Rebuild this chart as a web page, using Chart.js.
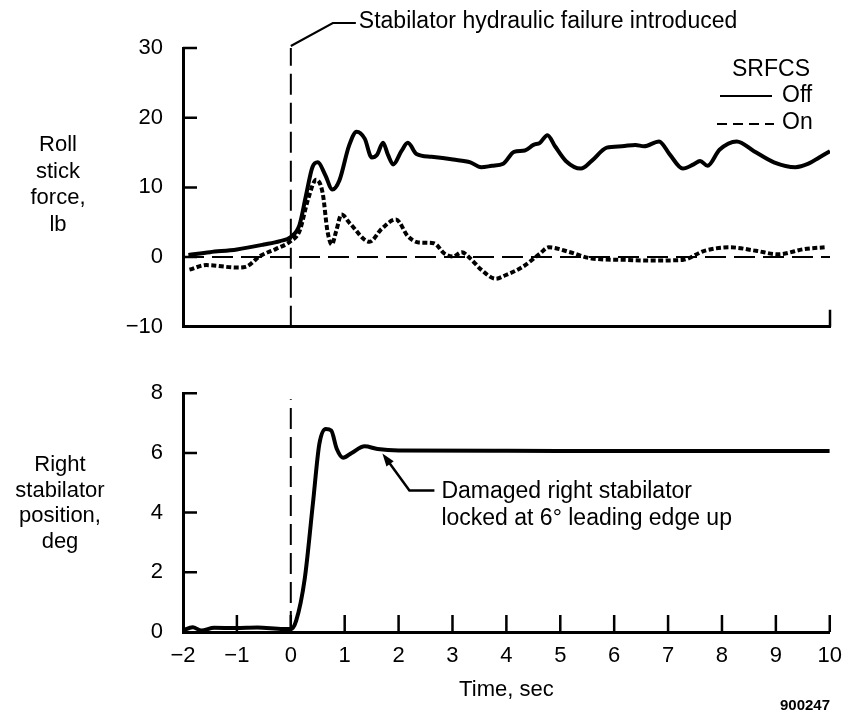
<!DOCTYPE html>
<html><head><meta charset="utf-8">
<script src="https://cdn.jsdelivr.net/npm/chart.js@4"></script>
<style>
html,body{margin:0;padding:0;background:#fff;}
#wrap{position:relative;width:853px;height:715px;overflow:hidden;}
canvas{position:absolute;left:0;}
</style></head><body>
<div id="wrap">
<canvas id="topc" width="853" height="360" style="top:0px"></canvas>
<canvas id="botc" width="853" height="355" style="top:360px"></canvas>
</div>
<script>
// ---- data ----
const xTickValues = [-2,-1,0,1,2,3,4,5,6,7,8,9,10];
const forceTicks = [-10,0,10,20,30];
const stabTicks = [0,2,4,6,8];

const timeOff = [-1.9,-1.5,-1,-0.5,-0.2,0,0.16,0.28,0.4,0.5,0.64,0.77,0.9,1.08,1.22,1.37,1.5,1.6,1.71,1.8,1.9,2.05,2.17,2.33,2.61,3.01,3.33,3.53,3.73,3.94,4.14,4.34,4.5,4.62,4.76,4.9,5.1,5.38,5.58,5.86,6.14,6.39,6.55,6.83,7.03,7.27,7.47,7.59,7.73,7.95,8.27,8.59,8.96,9.36,9.6,9.8,10];
const forceOff = [0.3,0.7,1.1,1.8,2.3,2.9,4.6,8.8,12.9,13.6,11.75,9.7,11,16,18,17,14.3,14.7,16.4,14.7,13.3,15.2,16.4,14.8,14.4,14.0,13.6,12.9,13.1,13.4,15.1,15.3,16.1,16.4,17.5,15.9,13.8,12.7,13.8,15.7,15.9,16.1,15.9,16.6,14.7,12.7,13.3,13.8,13.1,15.4,16.6,15.2,13.6,12.9,13.4,14.3,15.2];

const timeOn = [-1.88,-1.57,-1.0,-0.84,-0.56,-0.28,0,0.16,0.32,0.47,0.59,0.68,0.76,0.84,0.94,1.1,1.46,1.69,1.95,2.17,2.37,2.65,2.85,3.01,3.17,3.33,3.53,3.8,3.98,4.3,4.62,4.78,5.18,5.58,6.22,6.63,7.27,7.67,8.15,8.63,9.04,9.52,9.9];
const forceOn = [-1.8,-1.15,-1.5,-1.4,0.2,1.15,2.3,3.7,8.3,11.1,9.2,3.7,1.8,3.7,6.1,4.8,2.2,4.1,5.4,3.0,2.1,2.0,0.5,0.1,0.7,-0.2,-1.8,-3.1,-2.6,-1.4,0.5,1.4,0.7,-0.2,-0.4,-0.5,-0.4,0.9,1.4,0.9,0.4,1.15,1.4];

const zeroLine = [-2,10];
const failureTime = 0;

const timeStab = [-2,-1.82,-1.66,-1.42,-1.02,-0.62,-0.14,0,0.1,0.26,0.41,0.53,0.65,0.75,0.85,0.97,1.13,1.37,1.61,2,4,6,8,10];
const stabPos = [0.05,0.16,0.05,0.14,0.13,0.15,0.1,0.1,0.38,1.8,4.3,6.3,6.8,6.75,6.15,5.84,6.0,6.22,6.13,6.08,6.07,6.06,6.06,6.06];

// ---- helpers ----
const FONT = "'Liberation Sans', Arial, Helvetica, sans-serif";
Chart.defaults.font.family = FONT;
Chart.defaults.color = '#000';
const fmt = v => String(v).replace('-', '\u2212');
const pts = (xs, ys) => xs.map((x, i) => ({x, y: ys[i]}));

function text(ctx, s, x, y, size, align, weight) {
  ctx.save();
  ctx.font = (weight || 'normal') + ' ' + size + 'px ' + FONT;
  ctx.fillStyle = '#000';
  ctx.textAlign = align || 'left';
  ctx.textBaseline = 'middle';
  ctx.fillText(s, x, y);
  ctx.restore();
}
function line(ctx, coords, width, dash) {
  ctx.save();
  ctx.strokeStyle = '#000';
  ctx.lineWidth = width;
  ctx.setLineDash(dash || []);
  ctx.beginPath();
  coords.forEach((p, i) => i ? ctx.lineTo(p[0], p[1]) : ctx.moveTo(p[0], p[1]));
  ctx.stroke();
  ctx.restore();
}

const inwardTicks = {
  id: 'inwardTicks',
  afterDatasetsDraw(chart, args, o) {
    const ctx = chart.ctx, a = chart.chartArea, xs = chart.scales.x, ys = chart.scales.y;
    ctx.save();
    ctx.strokeStyle = '#000'; ctx.lineWidth = 2.5; ctx.setLineDash([]);
    ctx.beginPath();
    o.yTicks.forEach(v => { const y = ys.getPixelForValue(v); ctx.moveTo(a.left, y); ctx.lineTo(a.left + 14, y); });
    o.xTicks.forEach(v => { const x = xs.getPixelForValue(v); ctx.moveTo(x, a.bottom); ctx.lineTo(x, a.bottom - 17); });
    ctx.stroke();
    ctx.restore();
  }
};

const topNotes = {
  id: 'topNotes',
  afterDraw(chart) {
    const ctx = chart.ctx, xs = chart.scales.x, ys = chart.scales.y;
    ['Roll','stick','force,','lb'].forEach((s, i) => text(ctx, s, 58, 145 + i * 26.5, 22, 'center'));
    const x0 = xs.getPixelForValue(failureTime), y0 = ys.getPixelForValue(30);
    line(ctx, [[x0, y0 - 2], [x0 + 42, y0 - 25], [x0 + 65, y0 - 25]], 2);
    text(ctx, 'Stabilator hydraulic failure introduced', x0 + 68, y0 - 26, 23, 'left');
    text(ctx, 'SRFCS', 771, 70, 23, 'center');
    line(ctx, [[720, 96], [772, 96]], 2);
    text(ctx, 'Off', 782, 96, 23, 'left');
    line(ctx, [[717, 124], [774, 124]], 2, [10, 6]);
    text(ctx, 'On', 782, 123, 23, 'left');
  }
};

const botNotes = {
  id: 'botNotes',
  afterDraw(chart) {
    const ctx = chart.ctx, xs = chart.scales.x, ys = chart.scales.y;
    ['Right','stabilator','position,','deg'].forEach((s, i) => text(ctx, s, 60, 105 + i * 25.5, 22, 'center'));
    const tx = xs.getPixelForValue(1.7), ty = ys.getPixelForValue(6.05) + 2;
    const bx = tx + 27, by = ty + 37;
    line(ctx, [[tx + 3, ty + 4], [bx, by], [bx + 25, by]], 2.5);
    const L = Math.hypot(27, 37), ux = 27 / L, uy = 37 / L;
    ctx.save(); ctx.fillStyle = '#000'; ctx.beginPath();
    ctx.moveTo(tx, ty);
    ctx.lineTo(tx + ux * 13 - uy * 4.5, ty + uy * 13 + ux * 4.5);
    ctx.lineTo(tx + ux * 13 + uy * 4.5, ty + uy * 13 - ux * 4.5);
    ctx.closePath(); ctx.fill(); ctx.restore();
    text(ctx, 'Damaged right stabilator', bx + 32, by + 1, 23, 'left');
    text(ctx, 'locked at 6\u00b0 leading edge up', bx + 32, by + 28, 23, 'left');
    text(ctx, '900247', 830, 346, 15, 'right', 'bold');
  }
};

// ---- top chart ----
new Chart(document.getElementById('topc'), {
  type: 'line',
  data: {
    datasets: [
      { data: pts(timeOff, forceOff), borderColor: '#000', borderWidth: 4, pointRadius: 0, cubicInterpolationMode: 'monotone' },
      { data: pts(timeOn, forceOn), borderColor: '#000', borderWidth: 4, borderDash: [5, 2.5], pointRadius: 0, cubicInterpolationMode: 'monotone' },
      { data: pts(zeroLine, [0, 0]), borderColor: '#000', borderWidth: 2, borderDash: [21, 8], pointRadius: 0 },
      { data: pts([failureTime, failureTime], [-10, 30]), borderColor: '#000', borderWidth: 2, borderDash: [21, 8], pointRadius: 0 }
    ]
  },
  options: {
    responsive: false, animation: false, devicePixelRatio: 1,
    layout: { padding: { top: 48, right: 23, bottom: 24, left: 0 } },
    plugins: { legend: { display: false }, tooltip: { enabled: false },
      inwardTicks: { yTicks: [30, 20, 10, 0], xTicks: [10] } },
    scales: {
      x: { type: 'linear', min: -2, max: 10, grid: { display: false }, border: { display: true, color: '#000', width: 3 },
           ticks: { display: false }, afterFit: s => { s.height = 0; } },
      y: { type: 'linear', min: -10, max: 30, grid: { display: false, drawTicks: false }, border: { display: true, color: '#000', width: 3 },
           afterBuildTicks: s => { s.ticks = forceTicks.map(v => ({value: v})); },
           ticks: { padding: 20, font: { size: 22 }, color: '#000', callback: v => fmt(v) },
           afterFit: s => { s.width = 183; } }
    }
  },
  plugins: [inwardTicks, topNotes]
});

// ---- bottom chart ----
new Chart(document.getElementById('botc'), {
  type: 'line',
  data: {
    datasets: [
      { data: pts(timeStab, stabPos), borderColor: '#000', borderWidth: 4, pointRadius: 0, cubicInterpolationMode: 'monotone' },
      { data: pts([failureTime, failureTime], [0, 7.8]), borderColor: '#000', borderWidth: 2, borderDash: [21, 8], pointRadius: 0 }
    ]
  },
  options: {
    responsive: false, animation: false, devicePixelRatio: 1,
    layout: { padding: { top: 24, right: 23, bottom: 0, left: 0 } },
    plugins: { legend: { display: false }, tooltip: { enabled: false },
      inwardTicks: { yTicks: [8, 6, 4, 2], xTicks: [-1,0,1,2,3,4,5,6,7,8,9,10] } },
    scales: {
      x: { type: 'linear', min: -2, max: 10, grid: { display: false, drawTicks: false }, border: { display: true, color: '#000', width: 3 },
           afterBuildTicks: s => { s.ticks = xTickValues.map(v => ({value: v})); },
           ticks: { padding: 11, font: { size: 22 }, color: '#000', maxRotation: 0, autoSkip: false, callback: v => fmt(v) },
           title: { display: true, text: 'Time, sec', font: { size: 22 }, color: '#000', padding: { top: 0, bottom: 12 } },
           afterFit: s => { s.height = 83; } },
      y: { type: 'linear', min: 0, max: 8, grid: { display: false, drawTicks: false }, border: { display: true, color: '#000', width: 3 },
           afterBuildTicks: s => { s.ticks = stabTicks.map(v => ({value: v})); },
           ticks: { padding: 20, font: { size: 22 }, color: '#000', callback: v => fmt(v) },
           afterFit: s => { s.width = 183; } }
    }
  },
  plugins: [inwardTicks, botNotes]
});
</script>
</body></html>
